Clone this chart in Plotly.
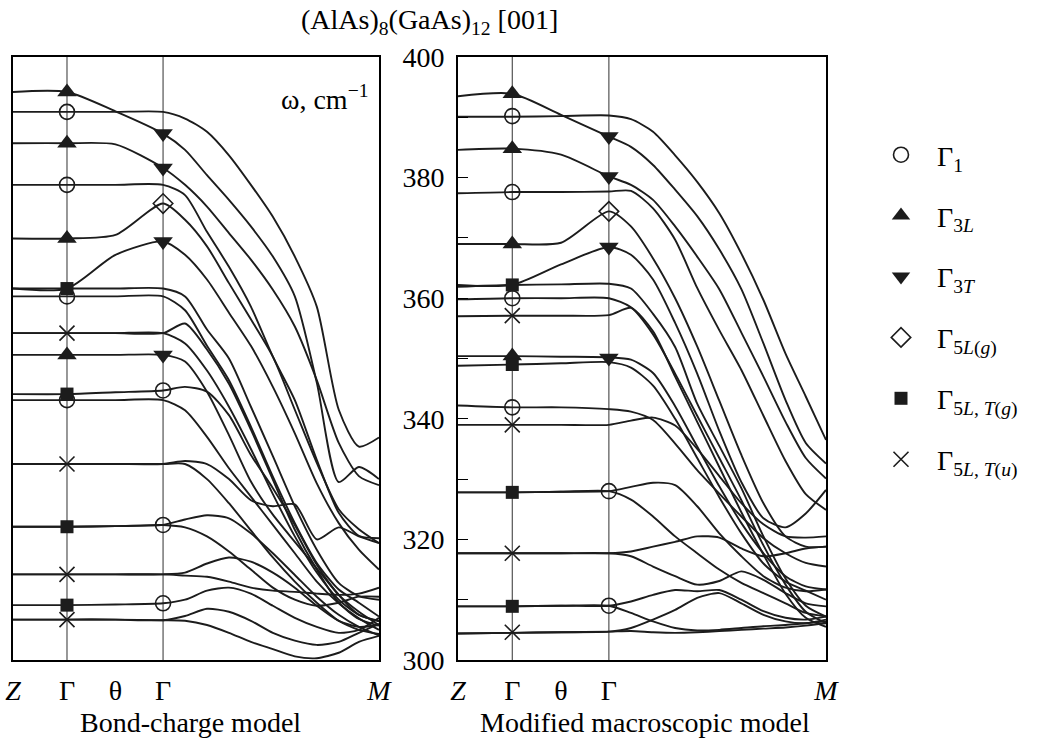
import plotly.graph_objects as go

# ---------------- data ----------------
# wave-vector path positions (fraction of panel width)
path_grid = [0, 0.1475, 0.28, 0.41, 0.47, 0.53, 0.59, 0.65, 0.71, 0.77, 0.83, 0.89, 0.945, 1.0]
path_tick_pos = [0, 0.1475, 0.28, 0.41, 1.0]
path_tick_txt = ["<i>Z</i>", "Γ", "θ", "Γ", "<i>M</i>"]
gamma_pos = [0.1475, 0.41]

# Bond-charge model: phonon branches, frequency in cm^-1 at path_grid
bond_charge_bands = [
    [390.9, 390.9, 390.9, 390.9, 389.8, 387.6, 383.7, 378.8, 373.5, 366.9, 358.6, 341.5, 335.4, 336.9],
    [394.2, 394.2, 391.0, 387.3, 384.6, 380.4, 376.3, 371.9, 366.9, 360.3, 346.0, 329.5, 332.0, 330.0],
    [385.7, 385.7, 385.5, 381.6, 378.8, 375.2, 370.8, 366.4, 361.4, 355.3, 346.4, 336.0, 330.5, 329.0],
    [378.8, 378.8, 378.8, 378.8, 377.1, 371.0, 365.2, 358.6, 350.3, 343.1, 333.2, 324.4, 320.6, 320.2],
    [369.9, 369.9, 370.5, 375.7, 373.0, 368.6, 362.5, 356.5, 350.3, 341.5, 332.7, 325.0, 321.7, 319.4],
    [361.6, 361.6, 367.2, 369.4, 367.2, 363.1, 357.6, 352.1, 345.3, 337.6, 329.3, 322.7, 318.3, 315.0],
    [361.6, 361.6, 361.6, 361.6, 360.3, 354.8, 350.0, 342.0, 333.8, 325.5, 318.3, 312.8, 310.6, 310.0],
    [360.3, 360.3, 360.3, 360.3, 358.0, 352.1, 346.4, 338.7, 330.4, 322.7, 316.1, 311.7, 309.5, 307.2],
    [354.2, 354.2, 354.2, 354.2, 355.8, 351.5, 345.8, 338.2, 329.9, 321.6, 315.0, 309.5, 306.8, 305.7],
    [354.2, 354.2, 354.2, 354.2, 352.5, 348.0, 342.0, 335.0, 327.5, 320.5, 314.5, 310.0, 307.5, 306.5],
    [350.6, 350.6, 350.6, 350.6, 349.5, 344.5, 337.3, 329.6, 324.1, 319.6, 315.2, 310.8, 308.0, 305.8],
    [344.1, 344.1, 344.4, 344.7, 345.3, 344.5, 340.6, 334.0, 328.5, 322.4, 315.8, 310.8, 307.5, 306.4],
    [343.1, 343.1, 343.1, 343.1, 341.4, 337.0, 331.8, 327.1, 322.4, 317.7, 313.0, 309.4, 306.9, 305.0],
    [332.5, 332.5, 332.5, 332.5, 333.0, 332.5, 330.0, 326.5, 325.5, 325.8, 320.0, 322.0, 320.5, 319.4],
    [332.5, 332.5, 332.5, 332.5, 332.5, 330.0, 326.0, 321.5, 317.0, 313.0, 309.5, 306.5, 305.0, 304.3],
    [322.1, 322.1, 322.2, 322.4, 323.3, 324.0, 323.5, 321.0, 317.7, 314.1, 310.5, 307.5, 305.5, 304.1],
    [322.1, 322.1, 322.2, 322.4, 322.0, 320.5, 318.0, 315.0, 312.0, 310.0, 309.0, 309.5, 310.5, 310.5],
    [314.2, 314.2, 314.2, 314.2, 314.5, 316.0, 317.0, 316.3, 314.5, 312.0, 309.0, 306.5, 305.5, 305.8],
    [314.2, 314.2, 314.2, 314.2, 314.0, 313.8, 313.0, 312.0, 311.5, 311.3, 311.0, 310.8, 311.0, 312.0],
    [309.1, 309.1, 309.2, 309.4, 310.0, 311.5, 312.0, 311.0, 309.0, 307.0, 305.5, 304.5, 305.0, 307.0],
    [306.7, 306.7, 306.7, 306.6, 306.5, 305.8, 304.5, 303.0, 301.8, 300.6, 300.3, 301.2, 303.0, 304.0],
    [306.7, 306.7, 306.7, 306.6, 307.3, 308.5, 308.0, 306.5, 304.5, 303.2, 302.5, 303.0, 304.5, 306.0],
]

# Modified macroscopic model
macro_bands = [
    [390.1, 390.1, 390.2, 390.3, 389.7, 387.6, 383.7, 379.3, 374.1, 367.4, 359.7, 350.8, 343.7, 336.5],
    [393.5, 393.9, 390.4, 386.8, 385.1, 382.1, 378.0, 373.6, 368.1, 361.5, 352.5, 343.1, 336.0, 332.6],
    [384.6, 384.8, 383.8, 380.2, 378.8, 376.3, 371.9, 366.9, 361.5, 354.3, 347.0, 339.5, 333.5, 330.1],
    [377.4, 377.6, 377.6, 377.7, 377.8, 374.9, 369.7, 361.7, 354.7, 348.1, 340.5, 333.0, 327.5, 324.9],
    [369.0, 369.0, 369.2, 374.4, 371.9, 366.6, 360.0, 352.0, 343.0, 334.0, 326.0, 320.5, 318.8, 318.8],
    [362.2, 362.2, 365.6, 368.5, 367.2, 363.1, 355.9, 347.5, 338.0, 329.5, 323.5, 322.0, 324.3, 328.2],
    [361.9, 362.2, 362.3, 362.4, 361.6, 357.4, 351.9, 342.5, 335.5, 328.5, 320.5, 313.5, 309.0, 307.2],
    [359.8, 360.0, 360.0, 360.0, 358.5, 354.0, 347.5, 340.5, 333.5, 326.5, 319.0, 312.5, 308.0, 306.1],
    [357.0, 357.1, 357.1, 357.2, 358.4, 354.5, 347.0, 339.5, 332.0, 324.5, 317.5, 311.0, 307.0, 305.5],
    [350.4, 350.4, 350.3, 350.2, 349.8, 347.6, 342.1, 335.4, 328.8, 322.7, 317.7, 313.9, 312.2, 311.7],
    [348.8, 349.0, 349.2, 349.4, 348.5, 345.5, 340.0, 333.5, 327.0, 321.0, 316.0, 313.0, 311.5, 310.0],
    [342.2, 341.9, 341.9, 341.6, 341.2, 339.8, 335.9, 331.5, 327.6, 323.8, 320.2, 317.7, 316.1, 315.5],
    [339.0, 339.0, 339.0, 339.0, 339.7, 340.2, 338.9, 335.0, 330.5, 326.0, 322.5, 320.5, 320.3, 320.5],
    [327.8, 327.8, 327.9, 328.0, 328.7, 329.4, 329.0, 325.5, 321.0, 317.2, 313.9, 312.0, 311.4, 311.7],
    [327.8, 327.8, 327.9, 328.0, 326.6, 323.8, 320.5, 317.7, 315.0, 312.8, 311.1, 309.4, 307.8, 307.2],
    [317.7, 317.7, 317.7, 317.7, 318.0, 318.8, 319.6, 320.5, 320.3, 318.5, 317.2, 317.7, 318.5, 318.8],
    [317.7, 317.7, 317.7, 317.7, 317.2, 315.5, 313.9, 312.5, 313.1, 314.7, 313.3, 311.1, 309.4, 308.9],
    [308.9, 308.9, 309.0, 309.0, 309.7, 310.8, 311.6, 311.4, 311.6, 310.0, 308.1, 307.0, 306.7, 307.2],
    [308.9, 308.9, 309.0, 309.0, 307.8, 306.4, 305.3, 304.9, 305.0, 305.3, 305.6, 305.8, 306.1, 306.4],
    [304.4, 304.5, 304.6, 304.7, 304.8, 304.6, 304.5, 304.6, 304.8, 305.0, 305.2, 305.4, 305.7, 306.1],
    [304.4, 304.5, 304.6, 304.7, 305.3, 306.7, 308.3, 310.3, 311.1, 309.4, 307.5, 306.4, 306.1, 306.7],
]

# symmetry classes
sym_names = ["Γ<sub>1</sub>", "Γ<sub>3<i>L</i></sub>", "Γ<sub>3<i>T</i></sub>",
             "Γ<sub>5<i>L</i>(<i>g</i>)</sub>", "Γ<sub>5<i>L</i>, <i>T</i>(<i>g</i>)</sub>",
             "Γ<sub>5<i>L</i>, <i>T</i>(<i>u</i>)</sub>"]
sym_keys = ["G1", "G3L", "G3T", "G5Lg", "G5LTg", "G5LTu"]

# Γ-point modes: which Γ column (0 = first, 1 = second), frequency, class
bc_mode_col = [0, 0, 0, 0, 0, 0, 0, 0, 0, 0, 0, 0, 0, 0, 0, 0,
               1, 1, 1, 1, 1, 1, 1, 1]
bc_mode_val = [394.2, 390.9, 385.7, 378.8, 369.9, 361.6, 360.3, 354.2, 350.6, 344.1, 343.1, 332.5,
               322.1, 314.2, 309.1, 306.7,
               387.3, 381.6, 375.7, 369.4, 350.6, 344.7, 322.4, 309.4]
bc_mode_cls = ["G3L", "G1", "G3L", "G1", "G3L", "G5LTg", "G1", "G5LTu", "G3L", "G5LTg", "G1", "G5LTu",
               "G5LTg", "G5LTu", "G5LTg", "G5LTu",
               "G3T", "G3T", "G5Lg", "G3T", "G3T", "G1", "G1", "G1"]

mm_mode_col = [0, 0, 0, 0, 0, 0, 0, 0, 0, 0, 0, 0, 0, 0, 0, 0,
               1, 1, 1, 1, 1, 1, 1]
mm_mode_val = [393.9, 390.2, 384.8, 377.6, 369.0, 362.2, 360.0, 357.1, 350.4, 349.0, 341.9, 339.0,
               327.8, 317.7, 308.9, 304.6,
               386.8, 380.2, 374.4, 368.5, 350.1, 328.0, 309.0]
mm_mode_cls = ["G3L", "G1", "G3L", "G1", "G3L", "G5LTg", "G1", "G5LTu", "G3L", "G5LTg", "G1", "G5LTu",
               "G5LTg", "G5LTu", "G5LTg", "G5LTu",
               "G3T", "G3T", "G5Lg", "G3T", "G3T", "G1", "G1"]

freq_ticks = [300, 310, 320, 330, 340, 350, 360, 370, 380, 390, 400]
freq_tick_txt = ["300", "", "320", "", "340", "", "360", "", "380", "", "400"]

# ---------------- style ----------------
FONT = "Liberation Serif, Times New Roman, serif"
FS = 28
INK = "#1c1c1c"
marker_style = {
    "G1": dict(symbol="circle-open", size=15, line=dict(width=1.6, color=INK), color=INK),
    "G3L": dict(symbol="triangle-up", size=17, line=dict(width=0), color=INK),
    "G3T": dict(symbol="triangle-down", size=17, line=dict(width=0), color=INK),
    "G5Lg": dict(symbol="diamond-open", size=15, line=dict(width=1.6, color=INK), color=INK),
    "G5LTg": dict(symbol="square", size=13, line=dict(width=0), color=INK),
    "G5LTu": dict(symbol="x-thin-open", size=15, line=dict(width=1.6, color=INK), color=INK),
}

fig = go.Figure()

panels = [
    (bond_charge_bands, bc_mode_col, bc_mode_val, bc_mode_cls, "x", "y", True),
    (macro_bands, mm_mode_col, mm_mode_val, mm_mode_cls, "x2", "y2", False),
]

for bands, mcol, mval, mcls, xa, ya, show_leg in panels:
    # Γ guide lines
    for gp in gamma_pos:
        fig.add_trace(go.Scatter(x=[gp, gp], y=[300, 400], mode="lines",
                                 line=dict(color="#444", width=1.1),
                                 xaxis=xa, yaxis=ya, showlegend=False, hoverinfo="skip"))
    for band in bands:
        fig.add_trace(go.Scatter(x=path_grid, y=band, mode="lines",
                                 line=dict(color=INK, width=1.9, shape="spline", smoothing=0.7),
                                 xaxis=xa, yaxis=ya, showlegend=False, hoverinfo="skip"))
    for k, key in enumerate(sym_keys):
        xs = [gamma_pos[c] for c, cl in zip(mcol, mcls) if cl == key]
        ys = [v for v, cl in zip(mval, mcls) if cl == key]
        fig.add_trace(go.Scatter(x=xs, y=ys, mode="markers", marker=marker_style[key],
                                 name=sym_names[k], legendgroup=key, legendrank=k + 1,
                                 showlegend=show_leg, xaxis=xa, yaxis=ya, hoverinfo="skip"))

W, H = 1044, 742
def px_x(p):
    return p / W
def px_y(p):
    return 1 - p / H

axis_common = dict(showline=True, mirror=True, linecolor="black", linewidth=2,
                   showgrid=False, zeroline=False, automargin=False)

def label(text, x, y):
    return dict(text=text, x=px_x(x), y=px_y(y), xref="paper", yref="paper",
                xanchor="center", yanchor="middle", showarrow=False, font=dict(size=FS))

fig.update_layout(
    template="none",
    width=W, height=H, autosize=False,
    margin=dict(l=0, r=0, t=0, b=0, pad=0, autoexpand=False),
    paper_bgcolor="white", plot_bgcolor="white",
    font=dict(family=FONT, size=FS, color="black"),
    xaxis=dict(domain=[px_x(13), px_x(379)], range=[0, 1], anchor="y",
               tickvals=path_tick_pos, ticktext=path_tick_txt, ticks="",
               ticklabelstandoff=4, tickfont=dict(size=FS), **axis_common),
    yaxis=dict(domain=[px_y(660), px_y(57)], range=[300, 400], anchor="x",
               showticklabels=False, ticks="", **axis_common),
    xaxis2=dict(domain=[px_x(458), px_x(826)], range=[0, 1], anchor="y2",
                tickvals=path_tick_pos, ticktext=path_tick_txt, ticks="",
                ticklabelstandoff=4, tickfont=dict(size=FS), **axis_common),
    yaxis2=dict(domain=[px_y(660), px_y(57)], range=[300, 400], anchor="x2",
                tickvals=freq_ticks, ticktext=freq_tick_txt, ticks="inside", ticklen=10,
                tickwidth=1.3, tickcolor="black", ticklabelstandoff=6,
                tickfont=dict(size=FS), **axis_common),
    showlegend=True,
    legend=dict(x=px_x(865), y=px_y(130), xanchor="left", yanchor="top",
                font=dict(size=FS, family=FONT), tracegroupgap=21.5, itemwidth=62,
                bgcolor="rgba(0,0,0,0)", itemsizing="trace"),
    annotations=[
        label("(AlAs)<sub>8</sub>(GaAs)<sub>12</sub> [001]", 429, 22),
        label("ω, cm<sup>−1</sup>", 325, 97),
        label("Bond-charge model", 190, 722),
        label("Modified macroscopic model", 645, 722),
    ],
)

fig.write_html("out.html", config={"displayModeBar": False},
               post_script="document.body.style.margin='0px';")
